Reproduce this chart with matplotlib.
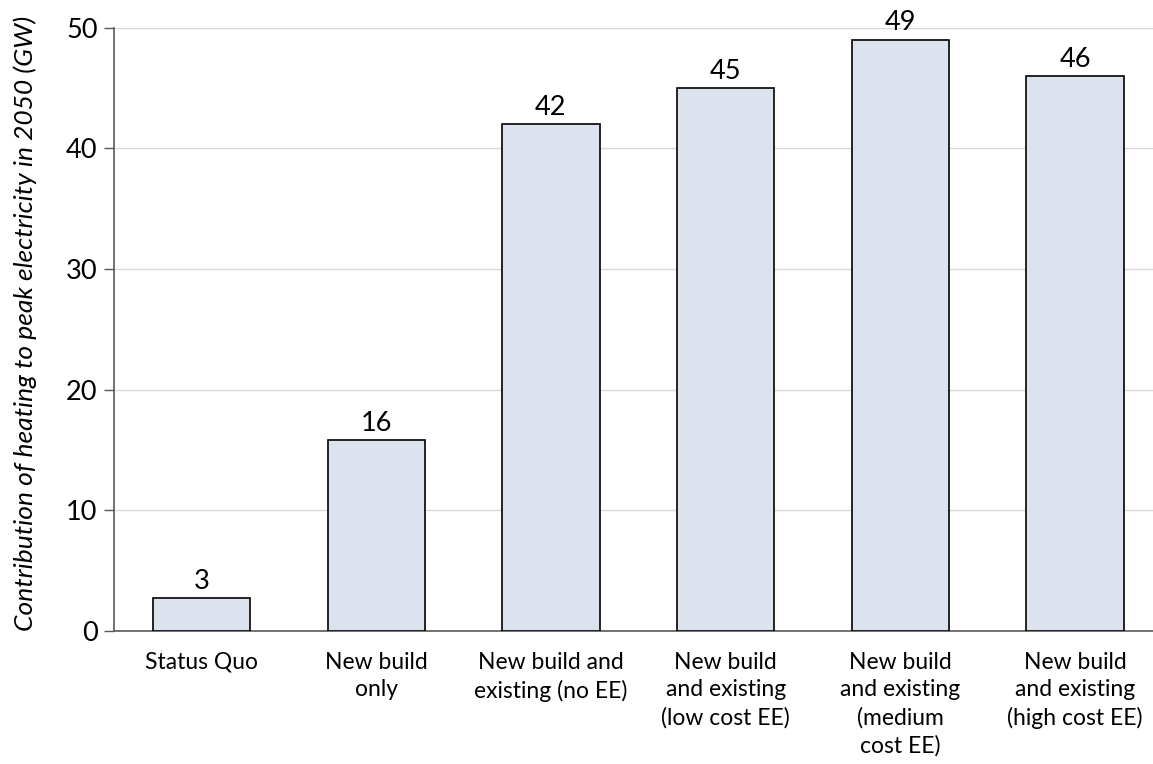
import matplotlib.pyplot as plt
import numpy as np

scenarios = [
    "Status Quo",
    "New build\nonly",
    "New build and\nexisting (no EE)",
    "New build\nand existing\n(low cost EE)",
    "New build\nand existing\n(medium\ncost EE)",
    "New build\nand existing\n(high cost EE)",
]
peak_gw = [2.7, 15.8, 42, 45, 49, 46]
y_ticks = [0, 10, 20, 30, 40, 50]

plt.rcParams['font.family'] = ['Lato', 'DejaVu Sans']

fig = plt.figure(figsize=(11.53, 7.64), dpi=100)
# axis runs slightly past the right edge of the figure
ax = fig.add_axes([0.0991, 0.174, 0.909, 0.790])

x = np.arange(len(scenarios))
bars = ax.bar(x, peak_gw, width=0.557, color='#DCE3EE', edgecolor='black',
              linewidth=1.2, zorder=3)

for rect, v in zip(bars, peak_gw):
    ax.annotate(f"{v:.0f}", (rect.get_x() + rect.get_width() / 2, v),
                xytext=(0, 3), textcoords='offset points',
                ha='center', va='bottom', fontsize=19.5, color='black')

ax.set_xlim(-0.5, len(scenarios) - 0.5)
ax.set_ylim(0, 50)
ax.set_yticks(y_ticks)
ax.tick_params(axis='y', labelsize=19.5, length=7, width=1, color='#595959', pad=5)
ax.set_xticks(x)
ax.set_xticklabels(scenarios, fontsize=16.5, linespacing=1.38)
ax.tick_params(axis='x', length=0, pad=15)

ax.grid(axis='y', color='#D9D9D9', linewidth=1, zorder=0)
for side in ['top', 'right']:
    ax.spines[side].set_visible(False)
for side in ['left', 'bottom']:
    ax.spines[side].set_color('#595959')
    ax.spines[side].set_linewidth(1.2)

ax.set_ylabel("Contribution of heating to peak electricity in 2050 (GW)",
              fontsize=19, style='italic')
ax.yaxis.set_label_coords(-0.074, 0.51)

fig.savefig('out.png', dpi=100)
